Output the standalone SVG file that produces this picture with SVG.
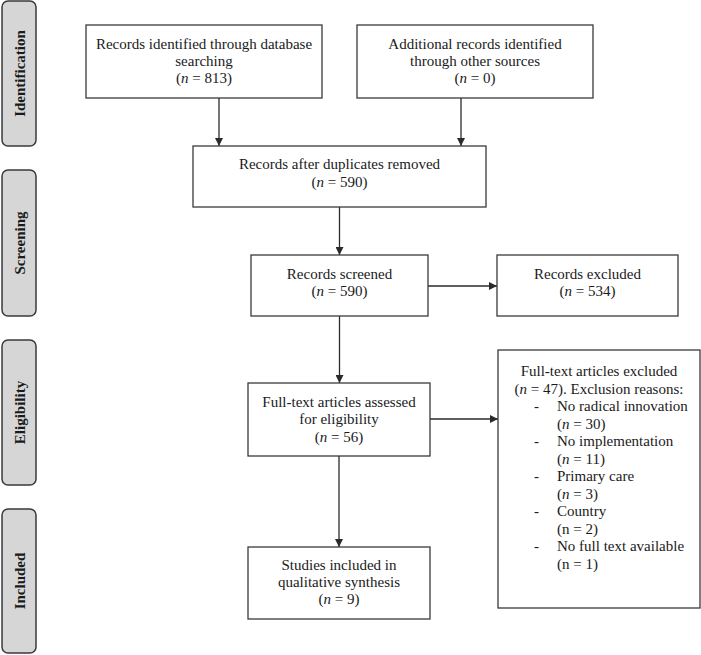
<svg xmlns="http://www.w3.org/2000/svg" width="701" height="655" viewBox="0 0 701 655">
<defs>
<style>
.box{fill:#fff;stroke:#3a3a3a;stroke-width:1.3}
.side{fill:#d6d6d6;stroke:#3a3a3a;stroke-width:1.5}
.t{font-family:"Liberation Serif","Times New Roman",serif;font-size:15px;fill:#1a1a1a;text-anchor:middle}
.tl{font-family:"Liberation Serif","Times New Roman",serif;font-size:15px;fill:#1a1a1a}
.s{font-family:"Liberation Serif","Times New Roman",serif;font-size:15px;font-weight:bold;fill:#1a1a1a;text-anchor:middle}
.c{stroke:#2a2a2a;stroke-width:1.3;fill:none;marker-end:url(#ah)}
</style>
<marker id="ah" viewBox="0 0 10 10" refX="10" refY="5" markerWidth="8" markerHeight="8" markerUnits="userSpaceOnUse" orient="auto">
<path d="M0,0 L10,5 L0,10 z" fill="#2a2a2a"/>
</marker>
</defs>
<rect width="701" height="655" fill="#fff"/>

<g id="phase-identification">
<rect class="side" x="2" y="1" width="34" height="145" rx="6"/>
<text class="s" transform="translate(24.5,73.5) rotate(-90)">Identification</text>
</g>
<g id="phase-screening">
<rect class="side" x="2" y="170" width="34" height="146" rx="6"/>
<text class="s" transform="translate(24.5,243) rotate(-90)">Screening</text>
</g>
<g id="phase-eligibility">
<rect class="side" x="2" y="340" width="34" height="145" rx="6"/>
<text class="s" transform="translate(24.5,412.5) rotate(-90)">Eligibility</text>
</g>
<g id="phase-included">
<rect class="side" x="2" y="509" width="34" height="144" rx="6"/>
<text class="s" transform="translate(24.5,581) rotate(-90)">Included</text>
</g>

<g id="connectors">
<line class="c" x1="219" y1="98" x2="219" y2="146"/>
<line class="c" x1="461" y1="98" x2="461" y2="146"/>
<line class="c" x1="339.5" y1="207" x2="339.5" y2="255"/>
<line class="c" x1="428" y1="286" x2="497" y2="286"/>
<line class="c" x1="339.5" y1="316" x2="339.5" y2="383"/>
<line class="c" x1="339" y1="456" x2="339" y2="547"/>
<line class="c" x1="430" y1="419" x2="498" y2="419"/>
</g>

<g id="n1">
<rect class="box" x="86" y="25" width="236" height="73"/>
<text class="t" x="204" y="49">Records identified through database</text>
<text class="t" x="204" y="66">searching</text>
<text class="t" x="204" y="83">(<tspan font-style="italic">n</tspan> = 813)</text>
</g>
<g id="n2">
<rect class="box" x="357" y="25" width="236" height="73"/>
<text class="t" x="475" y="49">Additional records identified</text>
<text class="t" x="475" y="66">through other sources</text>
<text class="t" x="475" y="83">(<tspan font-style="italic">n</tspan> = 0)</text>
</g>
<g id="n3">
<rect class="box" x="193" y="146" width="293" height="61"/>
<text class="t" x="339.5" y="169">Records after duplicates removed</text>
<text class="t" x="339.5" y="187">(<tspan font-style="italic">n</tspan> = 590)</text>
</g>
<g id="n4">
<rect class="box" x="251" y="255" width="177" height="61"/>
<text class="t" x="339.5" y="279">Records screened</text>
<text class="t" x="339.5" y="296">(<tspan font-style="italic">n</tspan> = 590)</text>
</g>
<g id="n5">
<rect class="box" x="497" y="255" width="181" height="61"/>
<text class="t" x="587.5" y="279">Records excluded</text>
<text class="t" x="587.5" y="296">(<tspan font-style="italic">n</tspan> = 534)</text>
</g>
<g id="n6">
<rect class="box" x="248" y="383" width="182" height="73"/>
<text class="t" x="339" y="407">Full-text articles assessed</text>
<text class="t" x="339" y="424">for eligibility</text>
<text class="t" x="339" y="442">(<tspan font-style="italic">n</tspan> = 56)</text>
</g>
<g id="n7">
<rect class="box" x="248" y="547" width="182" height="72"/>
<text class="t" x="339" y="570">Studies included in</text>
<text class="t" x="339" y="587">qualitative synthesis</text>
<text class="t" x="339" y="604">(<tspan font-style="italic">n</tspan> = 9)</text>
</g>
<g id="n8">
<rect class="box" x="498" y="350" width="202" height="258"/>
<text class="t" x="599" y="376">Full-text articles excluded</text>
<text class="t" x="599" y="393.5">(<tspan font-style="italic">n</tspan> = 47). Exclusion reasons:</text>
<text class="tl" x="534" y="411">-</text>
<text class="tl" x="557" y="411">No radical innovation</text>
<text class="tl" x="557" y="428.5">(<tspan font-style="italic">n</tspan> = 30)</text>
<text class="tl" x="534" y="446">-</text>
<text class="tl" x="557" y="446">No implementation</text>
<text class="tl" x="557" y="463.5">(<tspan font-style="italic">n</tspan> = 11)</text>
<text class="tl" x="534" y="481">-</text>
<text class="tl" x="557" y="481">Primary care</text>
<text class="tl" x="557" y="498.5">(<tspan font-style="italic">n</tspan> = 3)</text>
<text class="tl" x="534" y="516">-</text>
<text class="tl" x="557" y="516">Country</text>
<text class="tl" x="557" y="533.5">(n = 2)</text>
<text class="tl" x="534" y="551">-</text>
<text class="tl" x="557" y="551">No full text available</text>
<text class="tl" x="557" y="568.5">(n = 1)</text>
</g>
</svg>
